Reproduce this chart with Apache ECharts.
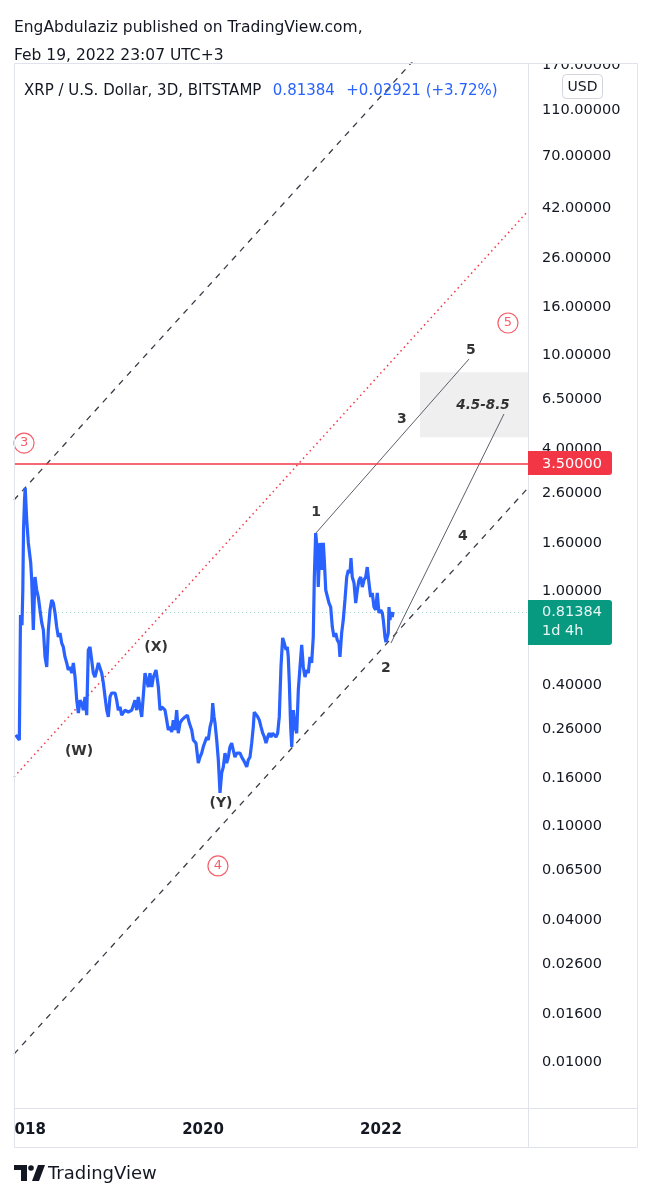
<!DOCTYPE html>
<html><head><meta charset="utf-8">
<script src="https://cdn.jsdelivr.net/npm/echarts@6/dist/echarts.min.js"></script>
<style>html,body{margin:0;padding:0;background:#fff}#c{width:653px;height:1200px}</style>
</head><body><div id="c"></div>
<script>
// ---- data (decimal year, price in USD) ----
const years = [2017.895,2017.936,2017.949,2017.966,2017.975,2017.983,2017.994,2018.002,2018.011,2018.019,2018.037,2018.064,2018.075,2018.093,2018.112,2018.131,2018.149,2018.168,2018.188,2018.206,2018.225,2018.244,2018.262,2018.281,2018.300,2018.318,2018.337,2018.356,2018.374,2018.393,2018.412,2018.430,2018.449,2018.468,2018.486,2018.506,2018.525,2018.543,2018.562,2018.581,2018.599,2018.618,2018.637,2018.655,2018.674,2018.693,2018.711,2018.730,2018.749,2018.767,2018.786,2018.806,2018.824,2018.843,2018.862,2018.880,2018.899,2018.918,2018.936,2018.955,2018.974,2018.992,2019.011,2019.030,2019.048,2019.067,2019.086,2019.124,2019.161,2019.199,2019.236,2019.255,2019.273,2019.311,2019.329,2019.348,2019.367,2019.385,2019.404,2019.424,2019.442,2019.472,2019.498,2019.517,2019.536,2019.573,2019.592,2019.610,2019.629,2019.648,2019.666,2019.685,2019.704,2019.722,2019.742,2019.761,2019.798,2019.824,2019.846,2019.873,2019.891,2019.921,2019.947,2019.966,2019.985,2020.003,2020.042,2020.059,2020.079,2020.098,2020.109,2020.124,2020.135,2020.154,2020.172,2020.191,2020.210,2020.228,2020.247,2020.266,2020.284,2020.303,2020.322,2020.340,2020.359,2020.379,2020.397,2020.416,2020.435,2020.453,2020.472,2020.491,2020.509,2020.528,2020.547,2020.565,2020.576,2020.595,2020.615,2020.633,2020.652,2020.671,2020.689,2020.708,2020.727,2020.745,2020.764,2020.783,2020.801,2020.820,2020.839,2020.857,2020.876,2020.895,2020.913,2020.933,2020.947,2020.958,2020.970,2020.985,2020.997,2021.015,2021.034,2021.053,2021.071,2021.090,2021.109,2021.127,2021.146,2021.165,2021.183,2021.202,2021.221,2021.239,2021.251,2021.266,2021.284,2021.295,2021.315,2021.334,2021.352,2021.363,2021.379,2021.397,2021.416,2021.435,2021.453,2021.472,2021.491,2021.509,2021.528,2021.539,2021.558,2021.576,2021.595,2021.615,2021.633,2021.652,2021.663,2021.677,2021.697,2021.716,2021.734,2021.753,2021.772,2021.790,2021.809,2021.828,2021.846,2021.865,2021.884,2021.902,2021.921,2021.940,2021.958,2021.977,2021.997,2022.015,2022.026,2022.045,2022.056,2022.071,2022.082,2022.090,2022.101,2022.112,2022.127,2022.135];
const prices = [0.245,0.233,0.79,0.716,1.01,1.816,2.435,2.74,2.318,2.00,1.60,1.315,1.113,0.683,1.147,1.01,0.943,0.831,0.732,0.683,0.525,0.476,0.683,0.831,0.916,0.889,0.807,0.703,0.638,0.663,0.601,0.579,0.525,0.495,0.462,0.476,0.448,0.495,0.431,0.344,0.303,0.344,0.334,0.312,0.355,0.297,0.562,0.579,0.509,0.448,0.431,0.462,0.495,0.495,0.448,0.407,0.355,0.312,0.292,0.355,0.369,0.372,0.369,0.344,0.312,0.322,0.297,0.312,0.306,0.312,0.344,0.312,0.355,0.292,0.292,0.448,0.419,0.391,0.448,0.391,0.431,0.462,0.391,0.312,0.322,0.312,0.283,0.257,0.265,0.252,0.283,0.257,0.312,0.249,0.275,0.283,0.292,0.297,0.275,0.257,0.233,0.226,0.186,0.197,0.205,0.218,0.240,0.233,0.265,0.283,0.334,0.292,0.275,0.233,0.192,0.139,0.169,0.179,0.205,0.186,0.197,0.218,0.226,0.211,0.197,0.205,0.207,0.205,0.197,0.192,0.186,0.179,0.192,0.197,0.226,0.265,0.306,0.303,0.292,0.283,0.265,0.249,0.240,0.226,0.240,0.249,0.240,0.249,0.252,0.240,0.249,0.292,0.476,0.632,0.601,0.562,0.579,0.525,0.407,0.265,0.218,0.312,0.265,0.249,0.380,0.476,0.590,0.476,0.431,0.462,0.448,0.525,0.495,0.638,1.147,1.764,1.494,1.04,1.60,1.228,1.60,1.354,1.01,1.01,0.889,0.855,0.703,0.638,0.663,0.619,0.601,0.525,0.663,0.753,0.916,1.147,1.228,1.192,1.381,1.147,1.081,0.889,1.01,1.113,1.147,1.04,1.113,1.147,1.264,1.081,0.943,0.981,0.855,0.831,0.981,0.807,0.831,0.807,0.753,0.638,0.607,0.601,0.663,0.855,0.753,0.814,0.775,0.81384];

const priceTicks = [0.01,0.016,0.026,0.04,0.065,0.1,0.16,0.26,0.4,0.65,1,1.6,2.6,4,6.5,10,16,26,42,70,110,170];
const yearTicks = [2018, 2020, 2022];
const xRange = [2017.876, 2023.652];
const priceRange = [0.00638, 174.6];
const lastPrice = 0.81384;
const resistance = 3.5;
const targetZone = [[2022.438, 4.5], [2023.652, 8.5]];
const channelUpper = [[2017.876, 2.435], [2022.438, 191.8]];
const channelMid = [[2017.876, 0.1622], [2023.652, 41.07]];
const channelLower = [[2017.876, 0.01081], [2023.652, 2.74]];
const waveA = [[2021.270, 1.764], [2022.989, 9.66]];
const waveB = [[2022.112, 0.601], [2023.382, 5.645]];
const waveLabels = [[2021.270, 2.165, '1'], [2022.056, 0.471, '2'], [2022.236, 5.375, '3'], [2022.921, 1.712, '4'], [2023.011, 10.55, '5'], [2018.607, 0.2093, '(W)'], [2019.472, 0.5784, '(X)'], [2020.202, 0.1258, '(Y)']];
const zoneLabel = [2023.146, 6.163, '4.5-8.5'];
const circled = [[2017.989, 4.25, '3'], [2020.168, 0.068, '4'], [2023.427, 13.74, '5']];

// ---- helpers ----
const L = Math.log10;
const pt = p => [p[0], L(p[1])];
const FONT = '"DejaVu Sans", sans-serif';
const INK = '#131722';

const chart = echarts.init(document.getElementById('c'), null, { renderer: 'canvas' });
const option = {
  animation: false,
  backgroundColor: '#ffffff',
  textStyle: { fontFamily: FONT },
  title: [
    { text: 'EngAbdulaziz published on TradingView.com,', left: 14, top: 20, padding: 0, textStyle: { fontSize: 15.5, fontWeight: 'normal', color: INK, fontFamily: FONT } },
    { text: 'Feb 19, 2022 23:07 UTC+3', left: 14, top: 48, padding: 0, textStyle: { fontSize: 15.5, fontWeight: 'normal', color: INK, fontFamily: FONT } },
    { text: '{a|XRP / U.S. Dollar, 3D, BITSTAMP}  {b|0.81384}  {b|+0.02921 (+3.72%)}', left: 24, top: 82, padding: 0,
      textStyle: { fontWeight: 'normal', rich: { a: { fontSize: 15, fontWeight: 'normal', color: INK, fontFamily: FONT }, b: { fontSize: 15, fontWeight: 'normal', color: '#2962ff', fontFamily: FONT } } } }
  ],
  grid: { left: 14, right: 125, top: 63, bottom: 92, show: false },
  xAxis: {
    type: 'value', min: xRange[0], max: xRange[1],
    axisLine: { show: false }, axisTick: { show: false }, splitLine: { show: false },
    axisLabel: { customValues: yearTicks, formatter: v => String(Math.round(v)),
      fontWeight: 'bold', fontSize: 15, color: INK, margin: 15, fontFamily: FONT }
  },
  yAxis: {
    type: 'value', position: 'right', min: L(priceRange[0]), max: L(priceRange[1]),
    axisLine: { show: false }, axisTick: { show: false }, splitLine: { show: false },
    axisLabel: { customValues: priceTicks.map(L), formatter: v => Math.pow(10, v).toFixed(5),
      fontSize: 14.5, color: INK, margin: 14, fontFamily: FONT }
  },
  series: [
    { type: 'line', name: 'zone', data: [], z: 1, silent: true,
      markArea: { silent: true, itemStyle: { color: 'rgba(120,123,134,0.12)' },
        data: [[{ coord: pt(targetZone[0]) }, { coord: pt(targetZone[1]) }]] } },
    { type: 'line', name: 'upper', data: channelUpper.map(pt), showSymbol: false, symbol: 'none', silent: true, z: 2,
      lineStyle: { color: '#3a3d47', width: 1.3, type: [6, 6] } },
    { type: 'line', name: 'lower', data: channelLower.map(pt), showSymbol: false, symbol: 'none', silent: true, z: 2,
      lineStyle: { color: '#3a3d47', width: 1.3, type: [6, 6] } },
    { type: 'line', name: 'mid', data: channelMid.map(pt), showSymbol: false, symbol: 'none', silent: true, z: 2,
      lineStyle: { color: '#f23645', width: 1.5, type: [1.5, 3.5] } },
    { type: 'line', name: 'price', data: years.map((y, i) => [y, L(prices[i])]), showSymbol: false, symbol: 'none', z: 5,
      lineStyle: { color: '#2962ff', width: 3.2 }, silent: true,
      markLine: { silent: true, symbol: 'none', label: { show: false },
        data: [
          { yAxis: L(resistance), lineStyle: { color: '#f23645', width: 1.5, type: 'solid' } },
          { yAxis: L(lastPrice), lineStyle: { color: 'rgba(8,153,129,0.35)', width: 1, type: [1, 3] } }
        ] } },
    { type: 'line', name: 'waveA', data: waveA.map(pt), showSymbol: false, symbol: 'none', silent: true, z: 4,
      lineStyle: { color: '#5d606b', width: 1 } },
    { type: 'line', name: 'waveB', data: waveB.map(pt), showSymbol: false, symbol: 'none', silent: true, z: 4,
      lineStyle: { color: '#5d606b', width: 1 } },
    { type: 'scatter', name: 'labels', silent: true, z: 6, symbolSize: 1, itemStyle: { color: 'rgba(0,0,0,0)' },
      data: waveLabels.map(d => ({ value: [d[0], L(d[1]), d[2]] })).concat([
        { value: [zoneLabel[0], L(zoneLabel[1]), zoneLabel[2]], label: { fontStyle: 'italic', fontSize: 13.5 } }]),
      label: { show: true, position: 'inside', formatter: p => p.value[2], color: '#000', textBorderWidth: 0, fontWeight: 'bold', fontSize: 14, fontFamily: FONT } },
    { type: 'scatter', name: 'circled', silent: true, z: 6, symbol: 'circle', symbolSize: 20,
      itemStyle: { color: '#ffffff', borderColor: '#f23645', borderWidth: 1.2 },
      data: circled.map(d => [d[0], L(d[1]), d[2]]),
      label: { show: true, position: 'inside', formatter: p => p.value[2], color: '#f23645', textBorderWidth: 0, fontSize: 13, fontFamily: FONT } }
  ]
};
chart.setOption(option);

const yRes = chart.convertToPixel({ yAxisIndex: 0 }, L(resistance));
const yLast = chart.convertToPixel({ yAxisIndex: 0 }, L(lastPrice));
const bx = 528;
chart.setOption({
  graphic: { elements: [
    { type: 'rect', z: 90, shape: { x: 0, y: 1109, width: 14, height: 38 }, style: { fill: '#fff' } },
    { type: 'rect', z: 90, shape: { x: 529, y: 36, width: 108, height: 28 }, style: { fill: '#fff' } },
    { type: 'rect', z: 100, shape: { x: 14.5, y: 63.5, width: 623, height: 1084 }, style: { fill: 'none', stroke: '#e0e3eb', lineWidth: 1 } },
    { type: 'line', z: 100, shape: { x1: 528.5, y1: 63, x2: 528.5, y2: 1148 }, style: { stroke: '#e0e3eb', lineWidth: 1 } },
    { type: 'line', z: 100, shape: { x1: 14, y1: 1108.5, x2: 638, y2: 1108.5 }, style: { stroke: '#e0e3eb', lineWidth: 1 } },
    { type: 'rect', z: 100, shape: { x: 562.5, y: 74.5, width: 40, height: 24, r: 4 }, style: { fill: '#fff', stroke: '#d1d4dc', lineWidth: 1 } },
    { type: 'text', z: 101, style: { text: 'USD', x: 582.5, y: 87, align: 'center', verticalAlign: 'middle', textAlign: 'center', textVerticalAlign: 'middle', fill: INK, font: '14px ' + FONT } },
    { type: 'rect', z: 100, shape: { x: bx, y: yRes - 12, width: 84, height: 24, r: [0, 3, 3, 0] }, style: { fill: '#f23645' } },
    { type: 'text', z: 101, style: { text: resistance.toFixed(5), x: 542, y: yRes + 1, verticalAlign: 'middle', textVerticalAlign: 'middle', fill: '#fff', font: '14.5px ' + FONT } },
    { type: 'rect', z: 100, shape: { x: bx, y: yLast - 12, width: 84, height: 45, r: [0, 3, 3, 0] }, style: { fill: '#089981' } },
    { type: 'text', z: 101, style: { text: lastPrice.toFixed(5), x: 542, y: yLast, verticalAlign: 'middle', textVerticalAlign: 'middle', fill: '#e8f6f3', font: '14.5px ' + FONT } },
    { type: 'text', z: 101, style: { text: '1d 4h', x: 542, y: yLast + 19, verticalAlign: 'middle', textVerticalAlign: 'middle', fill: '#e8f6f3', font: '14.5px ' + FONT } },
    { type: 'polygon', z: 100, shape: { points: [[14, 1165], [27, 1165], [27, 1181], [21, 1181], [21, 1170], [14, 1170]] }, style: { fill: INK } },
    { type: 'circle', z: 100, shape: { cx: 31, cy: 1168, r: 2.8 }, style: { fill: INK } },
    { type: 'polygon', z: 100, shape: { points: [[38, 1165], [45, 1165], [39, 1181], [32, 1181]] }, style: { fill: INK } },
    { type: 'text', z: 100, style: { text: 'TradingView', x: 48, y: 1174, verticalAlign: 'middle', textVerticalAlign: 'middle', fill: INK, font: '18px ' + FONT } }
  ] }
});
</script>
</body></html>
